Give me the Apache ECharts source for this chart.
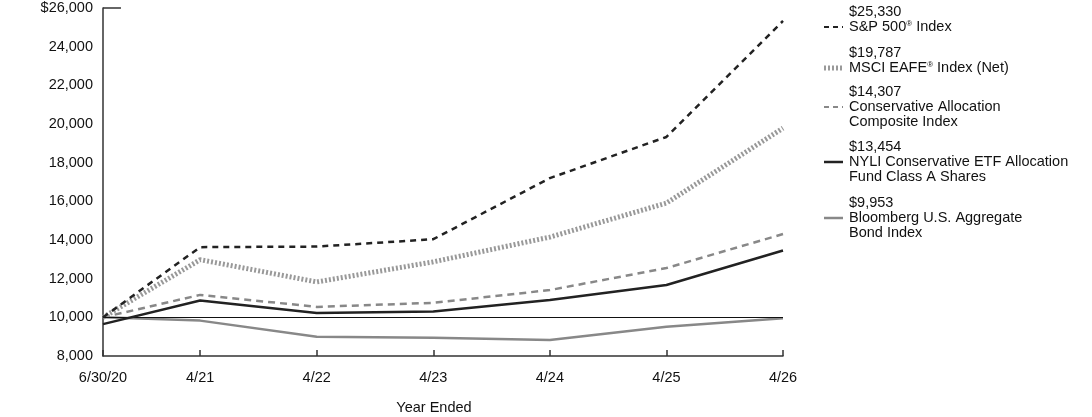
<!DOCTYPE html>
<html>
<head>
<meta charset="utf-8">
<script src="https://cdn.jsdelivr.net/npm/echarts@6/dist/echarts.min.js"></script>
<style>
  html, body { margin: 0; padding: 0; background: #fff; }
  #chart { width: 1092px; height: 417px; }
</style>
</head>
<body>
<div id="chart"></div>
<script>
// months since 6/30/20 for each point
var months = [0, 10, 22, 34, 46, 58, 70];
var tickLabels = ['6/30/20', '4/21', '4/22', '4/23', '4/24', '4/25', '4/26'];

var sp500 = [10000, 13630, 13660, 14040, 17200, 19330, 25330];
var msciEafe = [10000, 12980, 11830, 12870, 14150, 15910, 19787];
var composite = [10000, 11160, 10540, 10750, 11410, 12550, 14307];
var nyliFund = [9650, 10870, 10220, 10300, 10900, 11670, 13454];
var bloomberg = [10000, 9830, 9000, 8940, 8830, 9510, 9953];

var chart = echarts.init(document.getElementById('chart'));

function pts(arr) {
    return arr.map(function (v, i) { return [months[i], v]; });
}

var font = 'Liberation Sans, Arial, sans-serif';
var fs = 14.5;

// legend drawn by hand: value on first line, name below, line sample beside name
var legendItems = [
    {val: '$25,330', name: ['S&P 500{sup|\u00ae} Index'], y: 12, style: {stroke: '#222', lineWidth: 2, lineDash: [5, 4]}},
    {val: '$19,787', name: ['MSCI EAFE{sup|\u00ae} Index (Net)'], y: 53, style: {stroke: '#999', lineWidth: 5, lineDash: [2, 2]}},
    {val: '$14,307', name: ['Conservative Allocation', 'Composite Index'], y: 92, style: {stroke: '#888', lineWidth: 2, lineDash: [5, 4]}},
    {val: '$13,454', name: ['NYLI Conservative ETF Allocation', 'Fund Class A Shares'], y: 147, style: {stroke: '#222', lineWidth: 2.5}},
    {val: '$9,953', name: ['Bloomberg U.S. Aggregate', 'Bond Index'], y: 203, style: {stroke: '#888', lineWidth: 2.5}}
];

var graphics = [];
legendItems.forEach(function (it) {
    graphics.push({
        type: 'text',
        style: {x: 849, y: it.y, text: it.val, verticalAlign: 'middle', font: fs + 'px ' + font, fill: '#111'}
    });
    it.name.forEach(function (n, k) {
        graphics.push({
            type: 'text',
            style: {
                x: 849, y: it.y + 15 + k * 14.5, text: n, verticalAlign: 'middle',
                font: fs + 'px ' + font, fill: '#111',
                rich: {sup: {fontSize: 8, fontFamily: font, padding: [0, 0, 6, 0]}}
            }
        });
    });
    var ly = it.y + 15;
    graphics.push({
        type: 'line',
        shape: {x1: 824, y1: ly, x2: 843, y2: ly},
        style: Object.assign({fill: null}, it.style)
    });
});
graphics.push({
    type: 'text',
    style: {x: 434, y: 408, text: 'Year Ended', align: 'center', verticalAlign: 'middle', font: fs + 'px ' + font, fill: '#111'}
});

var option = {
    animation: false,
    backgroundColor: '#fff',
    grid: {left: 103, right: 309, top: 8, bottom: 61, containLabel: false},
    xAxis: {
        type: 'value',
        min: 0,
        max: 70,
        axisLine: {show: true, lineStyle: {color: '#333', width: 1.5}},
        axisTick: {show: true, inside: true, length: 6, customValues: months, lineStyle: {color: '#333', width: 1.5}},
        axisLabel: {
            customValues: months,
            margin: 14,
            fontFamily: font, fontSize: fs, color: '#111',
            formatter: function (v) { return tickLabels[months.indexOf(v)]; }
        },
        splitLine: {show: false}
    },
    yAxis: {
        type: 'value',
        min: 8000,
        max: 26000,
        interval: 2000,
        axisLine: {show: true, lineStyle: {color: '#333', width: 1.5}},
        axisTick: {show: false},
        splitLine: {show: false},
        axisLabel: {
            margin: 10,
            fontFamily: font, fontSize: fs, color: '#111',
            formatter: function (v) {
                var s = v.toString().replace(/\B(?=(\d{3})+(?!\d))/g, ',');
                return v === 26000 ? '$' + s : s;
            }
        }
    },
    series: [
        {
            name: 'Bloomberg U.S. Aggregate Bond Index', type: 'line', data: pts(bloomberg),
            symbol: 'none', lineStyle: {color: '#888', width: 2.5}, z: 2,
            markLine: {
                silent: true, symbol: 'none', label: {show: false},
                lineStyle: {color: '#111', width: 1, type: 'solid'},
                data: [
                    {yAxis: 10000},
                    [{coord: [0, 26000]}, {coord: [1.85, 26000], lineStyle: {color: '#333', width: 1.5}}]
                ]
            }
        },
        {
            name: 'Conservative Allocation Composite Index', type: 'line', data: pts(composite),
            symbol: 'none', lineStyle: {color: '#888', width: 2.5, type: [7, 5]}, z: 3
        },
        {
            name: 'MSCI EAFE Index (Net)', type: 'line', data: pts(msciEafe),
            symbol: 'none', lineStyle: {color: '#999', width: 5, type: [2, 2]}, z: 4
        },
        {
            name: 'NYLI Conservative ETF Allocation Fund Class A Shares', type: 'line', data: pts(nyliFund),
            symbol: 'none', lineStyle: {color: '#222', width: 2.5}, z: 5
        },
        {
            name: 'S&P 500 Index', type: 'line', data: pts(sp500),
            symbol: 'none', lineStyle: {color: '#222', width: 2.5, type: [6, 5]}, z: 6
        }
    ],
    graphic: graphics
};

chart.setOption(option);
</script>
</body>
</html>
